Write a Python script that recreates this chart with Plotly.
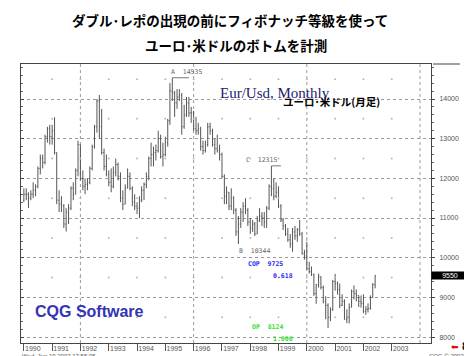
import plotly.graph_objects as go

# ---------------- data (monthly Eur/Usd, x10000) ----------------
years = list(range(1990, 2003))
dates = [f"{y}-{m:02d}-01" for y in years for m in range(1, 13)][:150]

opens = [
    11450, 11600, 11600, 11500, 11600, 11700, 11800, 12250, 12500, 12400, 13050, 13250,
    13050, 13200, 12650, 11450, 11350, 11300, 10850, 11150, 11250, 11750, 11600, 12200,
    12850, 12000, 11800, 11850, 11900, 12250, 12800, 13300, 13950, 13300, 12650, 12300,
    12100, 11900, 11800, 12150, 12350, 12050, 11500, 11350, 11750, 12050, 11750, 11400,
    11300, 11250, 11450, 11700, 11850, 12050, 12500, 12600, 12650, 12700, 13000, 12550,
    12600, 12900, 13450, 14200, 14150, 13900, 14050, 14100, 13300, 13600, 13900, 13650,
    13650, 13250, 13200, 13250, 12800, 12700, 12850, 13300, 13200, 12850, 12750, 12700,
    12600, 12050, 11550, 11650, 11300, 11500, 11200, 10650, 10850, 11150, 11300, 11200,
    10900, 10750, 10850, 10600, 10950, 11050, 11000, 10900, 11250, 11800, 11750, 11550,
    11650, 11300, 10950, 10800, 10600, 10450, 10350, 10650, 10550, 10700, 10600, 10100,
    10050, 9720, 9650, 9580, 9100, 9320, 9520, 9250, 8900, 8800, 8500, 8700,
    9400, 9350, 9200, 8800, 8900, 8450, 8500, 8750, 9150, 9100, 9050, 8900,
    8850, 8650, 8700, 8720, 9000, 9320,
]
highs = [
    11750, 11750, 11650, 11700, 11900, 11850, 12300, 12600, 12600, 13100, 13300, 13350,
    13350, 13540, 12650, 11700, 11550, 11350, 11250, 11350, 11800, 11900, 12250, 12950,
    12850, 12200, 12000, 12000, 12300, 12850, 13350, 14000, 14100, 13750, 12750, 12600,
    12200, 12250, 12300, 12500, 12400, 12150, 11700, 11850, 12250, 12150, 11800, 11600,
    11400, 11550, 11800, 11900, 12150, 12550, 12900, 12800, 12850, 13200, 13100, 12900,
    13050, 13500, 14400, 14535, 14200, 14250, 14250, 14150, 13850, 14050, 14050, 13800,
    13700, 13550, 13400, 13300, 12950, 12950, 13400, 13400, 13250, 13000, 13100, 12850,
    12650, 12100, 11800, 11650, 11750, 11550, 11250, 11050, 11250, 11400, 11500, 11250,
    11000, 10950, 10900, 11050, 11250, 11150, 11150, 11300, 11850, 12315, 12000, 11900,
    11800, 11350, 11000, 10850, 10750, 10600, 10750, 10800, 10750, 10950, 10650, 10200,
    10400, 9900, 9780, 9600, 9340, 9600, 9530, 9300, 9030, 8850, 8750, 9440,
    9590, 9400, 9350, 9080, 8950, 8700, 8850, 9200, 9300, 9200, 9050, 9050,
    9080, 8780, 8850, 9050, 9360, 9560,
]
lows = [
    11400, 11450, 11250, 11450, 11500, 11550, 11750, 12100, 12250, 12350, 12900, 12850,
    12850, 12600, 11350, 11150, 11150, 10750, 10660, 10850, 11200, 11450, 11600, 12050,
    11950, 11700, 11600, 11700, 11850, 12200, 12750, 13150, 13000, 12600, 12200, 12050,
    11800, 11650, 11750, 12050, 11950, 11400, 11200, 11350, 11750, 11700, 11300, 11200,
    11100, 11000, 11400, 11450, 11750, 11950, 12300, 12300, 12450, 12650, 12500, 12300,
    12550, 12800, 13350, 13950, 13550, 13750, 13950, 13100, 13250, 13550, 13550, 13400,
    13200, 13100, 13100, 12700, 12600, 12650, 12800, 13100, 12800, 12600, 12650, 12450,
    12000, 11350, 11350, 11200, 11200, 11100, 10550, 10344, 10750, 10900, 11100, 10800,
    10600, 10650, 10550, 10600, 10900, 10800, 10750, 10750, 11200, 11550, 11450, 11500,
    11250, 10900, 10700, 10550, 10400, 10250, 10150, 10450, 10400, 10550, 10080, 9950,
    9700, 9600, 9540, 9040, 8840, 9250, 9200, 8850, 8450, 8228, 8400, 8660,
    9170, 9070, 8730, 8780, 8440, 8350, 8344, 8750, 8950, 8900, 8760, 8740,
    8600, 8560, 8620, 8690, 8990, 9230,
]
closes = [
    11600, 11600, 11500, 11600, 11700, 11800, 12250, 12500, 12400, 13050, 13250, 13050,
    13200, 12650, 11450, 11350, 11300, 10850, 11150, 11250, 11750, 11600, 12200, 12850,
    12000, 11800, 11850, 11900, 12250, 12800, 13300, 13950, 13300, 12650, 12300, 12100,
    11900, 11800, 12150, 12350, 12050, 11500, 11350, 11750, 12050, 11750, 11400, 11300,
    11250, 11450, 11700, 11850, 12050, 12500, 12600, 12650, 12700, 13000, 12550, 12600,
    12900, 13450, 14200, 14150, 13900, 14050, 14100, 13300, 13600, 13900, 13650, 13650,
    13250, 13200, 13250, 12800, 12700, 12850, 13300, 13200, 12850, 12750, 12700, 12600,
    12050, 11550, 11650, 11300, 11500, 11200, 10650, 10850, 11150, 11300, 11200, 10900,
    10750, 10850, 10600, 10950, 11050, 11000, 10900, 11250, 11800, 11750, 11550, 11650,
    11300, 10950, 10800, 10600, 10450, 10350, 10650, 10550, 10700, 10600, 10100, 10050,
    9720, 9650, 9580, 9100, 9320, 9520, 9250, 8900, 8800, 8500, 8700, 9400,
    9350, 9200, 8800, 8900, 8450, 8500, 8750, 9150, 9100, 9050, 8900, 8850,
    8650, 8700, 8720, 9000, 9320, 9550,
]

tick_years = list(range(1990, 2004))
tick_labels = [str(y) for y in tick_years]
price_ticks = [8000, 9000, 10000, 11000, 12000, 13000, 14000]
price_labels = [str(v) for v in price_ticks]
half_levels = [8500, 9500, 10500, 11500, 12500, 13500, 14500]
grid_years = [1992, 1996, 2000, 2004]

fib_cop = 9725
fib_cop_ratio = "0.618"
fib_op = 8124
fib_op_ratio = "1.000"

# ---------------- figure ----------------
# the page body adds an 8px offset, so the figure is sized/margined to compensate
OFF = 8
W, H = 472 - OFF, 356 - OFF
L, R, T, B = 21 - OFF, 41, 64 - OFF, 13
PLOT_L, PLOT_R, PLOT_T, PLOT_B = 21, 431, 64, 343  # in window pixels


def px(x):
    return (x - PLOT_L) / (PLOT_R - PLOT_L)


def py(y):
    return (PLOT_B - y) / (PLOT_B - PLOT_T)


fig = go.Figure()

# sparse grid dots
dot_x, dot_y = [], []
for yr in tick_years[1:]:
    for lv in half_levels:
        dot_x.append(f"{yr}-01-01")
        dot_y.append(lv)
fig.add_trace(go.Scatter(x=dot_x, y=dot_y, mode="markers",
                         marker=dict(size=2, color="#b8b8b8"),
                         hoverinfo="skip", showlegend=False))

fig.add_trace(go.Ohlc(
    x=dates, open=opens, high=highs, low=lows, close=closes,
    increasing=dict(line=dict(color="#555555", width=1)),
    decreasing=dict(line=dict(color="#555555", width=1)),
    tickwidth=0.35, hoverinfo="skip", showlegend=False))

fig.add_trace(go.Scatter(x=[dates[0]], y=[closes[0]], yaxis="y2", mode="markers",
                         marker=dict(size=1, opacity=0), hoverinfo="skip",
                         showlegend=False))

yr_range = [7851, 14882]

fig.update_layout(
    width=W, height=H,
    margin=dict(l=L, r=R, t=T, b=B, pad=0, autoexpand=False),
    paper_bgcolor="white", plot_bgcolor="white",
    showlegend=False,
    xaxis=dict(
        type="date", range=["1989-11-25", "2004-05-22"], automargin=False,
        rangeslider=dict(visible=False),
        tickvals=[f"{y}-01-01" for y in tick_years], ticktext=tick_labels,
        ticks="outside", ticklen=7, tickcolor="#555", tickwidth=1,
        tickfont=dict(family="Liberation Sans", size=7, color="#555"),
        ticklabelshift=9, ticklabelstandoff=-8,
        showline=True, linecolor="#444", linewidth=1, mirror=True,
        showgrid=False, zeroline=False,
    ),
    yaxis=dict(
        side="right", range=yr_range, tickvals=price_ticks, ticktext=price_labels,
        automargin=False,
        ticks="outside", ticklen=3, tickcolor="#444",
        tickfont=dict(family="Liberation Sans", size=7, color="#555"),
        ticklabelstandoff=3,
        showline=True, linecolor="#444", linewidth=1,
        showgrid=True, gridcolor="#9a9a9a", griddash="dot", gridwidth=1,
        minor=dict(dtick=200, ticks="outside", ticklen=2, tickcolor="#666",
                   showgrid=False),
        zeroline=False,
    ),
    yaxis2=dict(
        overlaying="y", side="left", range=yr_range, tickvals=price_ticks,
        automargin=False,
        ticks="inside", ticklen=3, tickcolor="#444", showticklabels=False,
        showline=True, linecolor="#444", linewidth=1, showgrid=False,
        minor=dict(dtick=200, ticks="inside", ticklen=2, tickcolor="#666"),
        zeroline=False,
    ),
)

shapes = []
for gy in grid_years:
    shapes.append(dict(type="line", xref="x", yref="paper",
                       x0=f"{gy}-01-01", x1=f"{gy}-01-01", y0=0, y1=1,
                       line=dict(color="#9a9a9a", width=1, dash="dot"),
                       layer="below"))
shapes.append(dict(type="line", xref="paper", yref="paper",
                   x0=px(433), x1=px(460), y0=1, y1=1,
                   line=dict(color="#444", width=1)))

a_idx = highs.index(max(highs))
b_idx = lows.index(10344)
c_idx = highs.index(12315)
shapes.append(dict(type="line", xref="x", yref="y",
                   x0=dates[a_idx], x1=dates[a_idx + 7],
                   y0=highs[a_idx], y1=highs[a_idx],
                   line=dict(color="#777", width=1)))
shapes.append(dict(type="line", xref="x", yref="y",
                   x0=dates[c_idx], x1=dates[c_idx + 4],
                   y0=highs[c_idx], y1=highs[c_idx],
                   line=dict(color="#777", width=1)))
fig.update_layout(shapes=shapes)

ann = []
cjk = "Noto Sans CJK JP"
ann.append(dict(text="<b>ダブル･レポの出現の前にフィボナッチ等級を使って</b>",
                x=px(230), y=py(20), xref="paper", yref="paper",
                xanchor="center", yanchor="middle", showarrow=False,
                font=dict(family=cjk, size=13.5, color="#000")))
ann.append(dict(text="<b>ユーロ･米ドルのボトムを計測</b>",
                x=px(236), y=py(45), xref="paper", yref="paper",
                xanchor="center", yanchor="middle", showarrow=False,
                font=dict(family=cjk, size=13.5, color="#000")))
ann.append(dict(text="Eur/Usd, Monthly", x=px(218), y=py(93),
                xref="paper", yref="paper", xanchor="left", yanchor="middle",
                showarrow=False,
                font=dict(family="Liberation Serif", size=15, color="#22226e")))
ann.append(dict(text="<b>ユーロ･米ドル(月足)</b>", x=px(281), y=py(101),
                xref="paper", yref="paper", xanchor="left", yanchor="middle",
                showarrow=False, font=dict(family=cjk, size=10.5, color="#000")))
ann.append(dict(text="<b>CQG Software</b>", x=px(33), y=py(311),
                xref="paper", yref="paper", xanchor="left", yanchor="middle",
                showarrow=False,
                font=dict(family="Liberation Sans", size=16, color="#3434b4")))

mono = "DejaVu Sans Mono"
ann.append(dict(text=f"A  {highs[a_idx]}", x=dates[a_idx], y=highs[a_idx],
                xref="x", yref="y", xanchor="left", yanchor="bottom",
                xshift=-3, yshift=0, showarrow=False,
                font=dict(family=mono, size=6.5, color="#666")))
ann.append(dict(text=f"B  {lows[b_idx]}", x=dates[b_idx], y=lows[b_idx],
                xref="x", yref="y", xanchor="left", yanchor="top",
                xshift=-1, yshift=-1, showarrow=False,
                font=dict(family=mono, size=6.5, color="#666")))
ann.append(dict(text=f"C  {highs[c_idx]}", x=dates[c_idx], y=highs[c_idx],
                xref="x", yref="y", xanchor="right", yanchor="bottom",
                xshift=8, yshift=0, showarrow=False,
                font=dict(family=mono, size=6.5, color="#666")))

ann.append(dict(text=f"<b>COP  {fib_cop}</b>", x=px(246), y=fib_cop,
                xref="paper", yref="y", xanchor="left", yanchor="bottom",
                yshift=-1, showarrow=False,
                font=dict(family=mono, size=6.5, color="#2a2af0")))
ann.append(dict(text=f"<b>{fib_cop_ratio}</b>", x=px(271), y=fib_cop,
                xref="paper", yref="y", xanchor="left", yanchor="top",
                yshift=-1, showarrow=False,
                font=dict(family=mono, size=6.5, color="#2a2af0")))
ann.append(dict(text=f"<b>OP  {fib_op}</b>", x=px(250), y=fib_op,
                xref="paper", yref="y", xanchor="left", yanchor="bottom",
                yshift=-1, showarrow=False,
                font=dict(family=mono, size=6.5, color="#33dd33")))
ann.append(dict(text=f"<b>{fib_op_ratio}</b>", x=px(271), y=fib_op,
                xref="paper", yref="y", xanchor="left", yanchor="top",
                yshift=-1, showarrow=False,
                font=dict(family=mono, size=6.5, color="#33dd33")))

ann.append(dict(text=f"{closes[-1]}", x=1, y=closes[-1], xref="paper", yref="y",
                xanchor="left", yanchor="middle", showarrow=False,
                bgcolor="#000", width=36, height=7, borderpad=0,
                font=dict(family="Liberation Sans", size=7, color="#fff")))

ann.append(dict(text="Wed, Jun 19 2002 17:55:05", x=px(20), y=py(351),
                xref="paper", yref="paper", xanchor="left", yanchor="top",
                showarrow=False,
                font=dict(family="Liberation Sans", size=6, color="#555")))
ann.append(dict(text="CQG © 2002", x=px(427), y=py(351),
                xref="paper", yref="paper", xanchor="left", yanchor="top",
                showarrow=False,
                font=dict(family="Liberation Sans", size=6, color="#555")))
ann.append(dict(text="⬅", x=px(455), y=py(347), xref="paper", yref="paper",
                xanchor="center", yanchor="middle", showarrow=False,
                font=dict(family="DejaVu Sans", size=9, color="#e01010")))
ann.append(dict(text="<b>84</b>", x=px(460), y=py(346), xref="paper", yref="paper",
                xanchor="left", yanchor="middle", showarrow=False,
                font=dict(family="Liberation Sans", size=11, color="#111")))

fig.update_layout(annotations=ann)
fig.write_html("out.html")
